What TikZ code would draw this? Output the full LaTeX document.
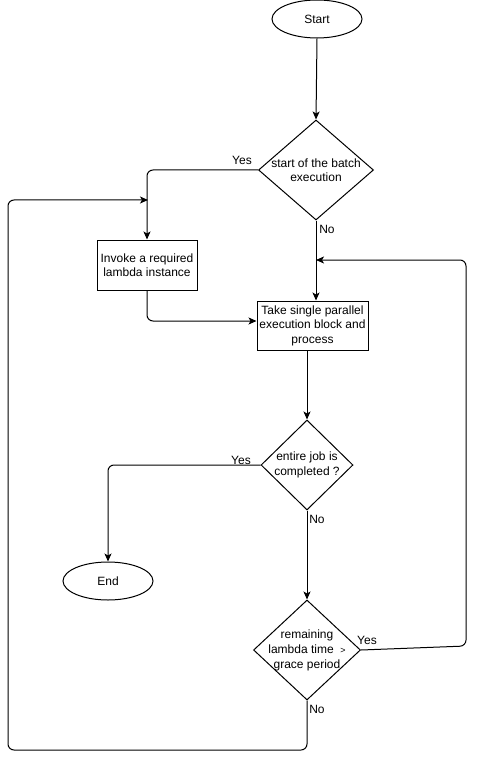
\documentclass[tikz,border=0pt]{standalone}
\usepackage{fontspec}
\setmainfont{Liberation Sans}
\usetikzlibrary{shapes.geometric,arrows.meta,calc}
\begin{document}
\begin{tikzpicture}[x=1pt,y=-1pt,
  every node/.style={font=\fontsize{12}{14.5}\selectfont, inner sep=0pt},
  term/.style={ellipse, draw, line width=1pt, minimum width=90, minimum height=38},
  procbox/.style={rectangle, draw, line width=1pt, align=center},
  dia/.style={diamond, draw, line width=1pt},
  lbl/.style={font=\fontsize{12}{14}\selectfont},
  arr/.style={draw, line width=1pt, -{Stealth[length=8pt,width=7pt,inset=2pt]}, rounded corners=6pt}
]
\useasboundingbox (0,0) rectangle (476,759);

\node[term] (start) at (317,19) {Start};
\node[dia, minimum width=115, minimum height=100,
  label={[align=center, font=\fontsize{12}{14.5}\selectfont]center:start of the batch\\execution}] (d1) at (316,170) {};
\node[procbox, minimum width=100, minimum height=50] (invoke) at (147,265) {Invoke a required\\lambda instance};
\node[procbox, minimum width=111, minimum height=49] (take) at (312.5,325.5) {Take single parallel\\execution block and\\process};
\node[dia, minimum width=92, minimum height=90,
  label={[align=center, font=\fontsize{12}{14.5}\selectfont]center:entire job is\\completed ?}] (d2) at (307,465) {};
\node[term] (end) at (108,581) {End};
\node[dia, minimum width=107, minimum height=100,
  label={[align=center, font=\fontsize{12}{15}\selectfont]center:remaining\\lambda time\ \ {\fontsize{9}{10}\selectfont>}\\grace period}] (d3) at (307,650) {};

\coordinate (j1) at (316,260);
\coordinate (j2) at (148,200);
\coordinate (c1) at (466,646);
\coordinate (c2) at (307,750);
\coordinate (c3) at (8,750);

\draw[arr] (start.south) -- (d1.north);
\draw[arr] (d1.west) -| (invoke.north);
\draw[arr] (d1.south) -- (d1.south |- take.north);
\draw[arr] (invoke.south) |- ($(take.west)+(0,-4.5)$);
\draw[arr] (take.south -| d2.north) -- (d2.north);
\draw[arr] (d2.west) -| (end.north);
\draw[arr] (d2.south) -- (d3.north);
\draw[arr] (d3.east) -- (c1) |- (j1);
\draw[arr] (d3.south) -- (c2) -- (c3) |- (j2);

\node[lbl] (y1) at (242,160) {Yes};
\node[lbl] (n1) at (327,229) {No};
\node[lbl] (y2) at (241,460) {Yes};
\node[lbl] (n2) at (317,519) {No};
\node[lbl] (y3) at (367,640) {Yes};
\node[lbl] (n3) at (317,709) {No};
\end{tikzpicture}
\end{document}
